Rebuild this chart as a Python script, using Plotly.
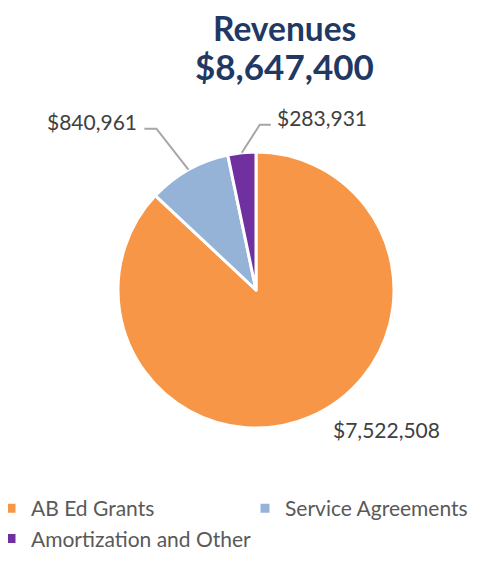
import math
import plotly.graph_objects as go

# ---- data ----
categories = ["AB Ed Grants", "Service Agreements", "Amortization and Other"]
values = [7522508, 840961, 283931]
title_lines = ["Revenues", "$8,647,400"]

# ---- style ----
colors = ["#F79646", "#95B3D7", "#7030A0"]
OFF = 8                      # page body margin that shifts the figure on screen
W, H = 520, 565              # figure size (right part past the window is blank)
MB = 92                      # bottom margin reserved for the legend
PH = H - MB                  # plot-area height in px
CX, CY, R = 256, 290, 138    # pie centre / radius in screen px
FONT = "Lato"
TEXT_COLOR = "#404040"
LINE_COLOR = "#A6A6A6"
TITLE_COLOR = "#1F3864"
TXT_DY = -3                  # glyph-centre correction for annotations
label_style = [
    {"leader": False, "pos": (386, 432), "anchor": "center"},
    {"leader": True, "elbow": (-32, -41), "leg": -12, "anchor": "right"},
    {"leader": True, "elbow": (18, -28), "leg": 11, "anchor": "left"},
]
title_pos = [(284, 31, 33.5), (284, 69, 35)]
LEG_X, LEG_TOP, LEG_STEP = -9, 488, 254


def px2paper(sx, sy):
    """screen px -> paper coords of the plot area"""
    return (sx - OFF) / W, 1 - (sy - OFF) / PH


fig = go.Figure(
    go.Pie(
        labels=categories,
        values=values,
        sort=False,
        direction="clockwise",
        rotation=0,
        marker=dict(colors=colors, line=dict(color="white", width=3)),
        textinfo="none",
        hoverinfo="label+value+percent",
        domain=dict(
            x=[(CX - R - OFF) / W, (CX + R - OFF) / W],
            y=[1 - (CY + R - OFF) / PH, 1 - (CY - R - OFF) / PH],
        ),
    )
)

total = sum(values)
cum = 0
shapes, annotations = [], []
for v, st in zip(values, label_style):
    mid = (cum + v / 2) / total * 2 * math.pi
    cum += v
    ex = CX + R * math.sin(mid)
    ey = CY - R * math.cos(mid)
    text = "${:,.0f}".format(v)
    if st["leader"]:
        bx, by = ex + st["elbow"][0], ey + st["elbow"][1]
        tx = bx + st["leg"]
        p0, p1, p2 = px2paper(ex, ey), px2paper(bx, by), px2paper(tx, by)
        shapes.append(dict(
            type="path", xref="paper", yref="paper",
            path=f"M {p0[0]},{p0[1]} L {p1[0]},{p1[1]} L {p2[0]},{p2[1]}",
            line=dict(color=LINE_COLOR, width=2),
        ))
        gap = 4 if st["anchor"] == "left" else -5
        ax, ay = px2paper(tx + gap, by - 4 + TXT_DY)
    else:
        ax, ay = px2paper(st["pos"][0], st["pos"][1] + TXT_DY)
    annotations.append(dict(
        text=text, xref="paper", yref="paper", x=ax, y=ay,
        xanchor=st["anchor"], yanchor="middle", showarrow=False,
        font=dict(family=FONT, size=21, color=TEXT_COLOR),
    ))

for line, (sx, sy, fs) in zip(title_lines, title_pos):
    tx, ty = px2paper(sx, sy + TXT_DY)
    annotations.append(dict(
        text="<b>" + line + "</b>", xref="paper", yref="paper", x=tx, y=ty,
        xanchor="center", yanchor="middle", showarrow=False,
        font=dict(family=FONT, size=fs, color=TITLE_COLOR),
    ))

lx, ly = px2paper(LEG_X, LEG_TOP)
fig.update_layout(
    width=W, height=H,
    margin=dict(l=0, r=0, t=0, b=MB, autoexpand=False),
    paper_bgcolor="white",
    plot_bgcolor="white",
    shapes=shapes,
    annotations=annotations,
    showlegend=True,
    legend=dict(
        orientation="h",
        x=lx, xanchor="left",
        y=ly, yanchor="top",
        entrywidth=LEG_STEP / W, entrywidthmode="fraction",
        font=dict(family=FONT, size=21, color="#595959"),
        bgcolor="rgba(0,0,0,0)",
    ),
)

fig.write_html("out.html")
